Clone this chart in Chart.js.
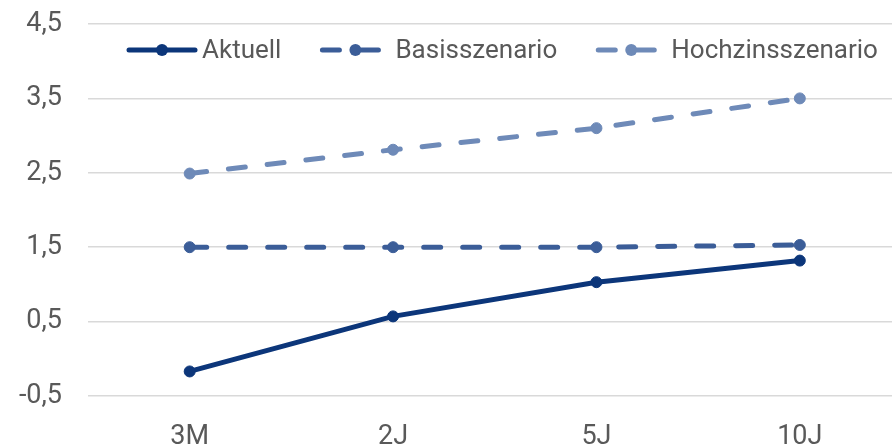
<!DOCTYPE html>
<html>
<head>
<meta charset="utf-8">
<script src="https://cdn.jsdelivr.net/npm/chart.js@4/dist/chart.umd.min.js"></script>
<style>
  html, body { margin: 0; padding: 0; background: #ffffff; overflow: hidden; }
  #wrap { position: relative; width: 908px; height: 447px; }
</style>
</head>
<body>
<div id="wrap"><canvas id="c"></canvas></div>
<script>
// ---- data ----
const categories = ['3M', '2J', '5J', '10J'];
const aktuell = [-0.17, 0.57, 1.03, 1.32];
const basisszenario = [1.5, 1.5, 1.5, 1.53];
const hochzinsszenario = [2.49, 2.81, 3.1, 3.5];
const seriesNames = ['Aktuell', 'Basisszenario', 'Hochzinsszenario'];
const yTicks = [-0.5, 0.5, 1.5, 2.5, 3.5, 4.5];

const FONT = 'Roboto';
const TICK_SIZE = 27;
const LEG_SIZE = 26;
const TEXT = '#595959';

const colors = ['#0C367A', '#3B5D98', '#6E8AB8'];
const dash = [17, 22];

const customLegend = {
  id: 'customLegend',
  afterDraw(chart) {
    const ctx = chart.ctx;
    ctx.save();
    ctx.font = LEG_SIZE + 'px ' + FONT;
    ctx.textBaseline = 'middle';
    ctx.textAlign = 'left';
    const y = 50;
    let x = 127;
    chart.data.datasets.forEach(ds => {
      ctx.strokeStyle = ds.borderColor;
      ctx.lineWidth = ds.borderWidth;
      ctx.lineCap = 'round';
      ctx.setLineDash(ds.borderDash || []);
      ctx.beginPath();
      ctx.moveTo(x + 2, y);
      ctx.lineTo(x + 68, y);
      ctx.stroke();
      ctx.setLineDash([]);
      ctx.fillStyle = ds.pointBackgroundColor;
      ctx.beginPath();
      ctx.arc(x + 35, y, 6, 0, Math.PI * 2);
      ctx.fill();
      ctx.fillStyle = TEXT;
      ctx.fillText(ds.label, x + 75, y + 1);
      const w = ctx.measureText(ds.label).width;
      x = x + 75 + w + 39;
    });
    ctx.restore();
  }
};

const seriesData = [aktuell, basisszenario, hochzinsszenario];
const datasets = seriesData.map((d, i) => ({
  label: seriesNames[i],
  data: d,
  borderColor: colors[i],
  backgroundColor: colors[i],
  pointBackgroundColor: colors[i],
  pointBorderColor: colors[i],
  borderWidth: 5,
  borderDash: i === 0 ? [] : dash,
  borderCapStyle: 'round',
  pointRadius: 5.5,
  pointBorderWidth: 1,
  tension: 0,
  fill: false
}));

new Chart(document.getElementById('c'), {
  type: 'line',
  data: { labels: categories, datasets },
  options: {
    responsive: true,
    maintainAspectRatio: false,
    animation: false,
    layout: { padding: { top: 24, right: 0, left: 0, bottom: 0 } },
    plugins: { legend: { display: false }, tooltip: { enabled: false } },
    scales: {
      x: {
        offset: true,
        grid: { display: false, drawTicks: false },
        border: { display: false },
        ticks: { color: TEXT, font: { family: FONT, size: TICK_SIZE }, padding: 25, maxRotation: 0 },
        afterFit(s) { s.height = 51; s.paddingLeft = 0; s.paddingRight = 0; }
      },
      y: {
        min: -0.5,
        max: 4.5,
        afterBuildTicks(s) { s.ticks = yTicks.map(v => ({ value: v })); },
        grid: { color: '#D9D9D9', lineWidth: 1.5, drawTicks: false },
        border: { display: false },
        ticks: {
          color: TEXT,
          font: { family: FONT, size: TICK_SIZE },
          padding: 26,
          callback: v => v.toFixed(1).replace('.', ',')
        },
        afterFit(s) { s.width = 88; s.paddingTop = 0; s.paddingBottom = 0; }
      }
    }
  },
  plugins: [customLegend]
});
</script>
</body>
</html>
